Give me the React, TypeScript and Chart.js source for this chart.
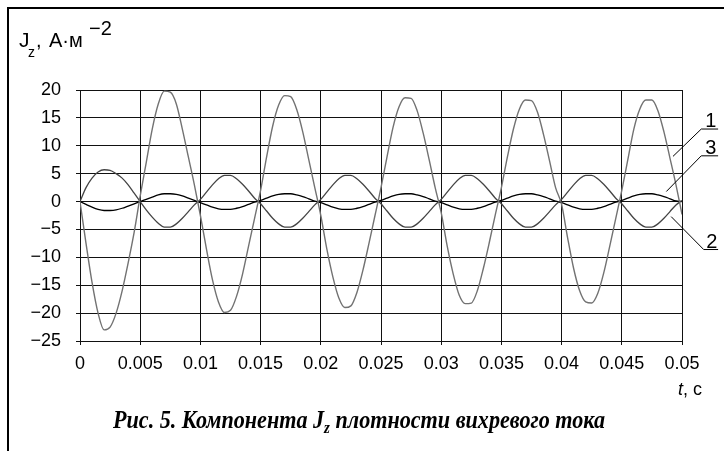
import React, { useEffect, useRef } from "react";
import { Chart, registerables } from "chart.js";
Chart.register(...registerables);

// t, s
const times = [
  0, 0.0005, 0.001, 0.0015, 0.002, 0.0025, 0.003, 0.0035, 0.004, 0.0045,
  0.005, 0.0055, 0.006, 0.0065, 0.007, 0.0075, 0.008, 0.0085, 0.009, 0.0095,
  0.01, 0.0105, 0.011, 0.0115, 0.012, 0.0125, 0.013, 0.0135, 0.014, 0.0145,
  0.015, 0.0155, 0.016, 0.0165, 0.017, 0.0175, 0.018, 0.0185, 0.019, 0.0195,
  0.02, 0.0205, 0.021, 0.0215, 0.022, 0.0225, 0.023, 0.0235, 0.024, 0.0245,
  0.025, 0.0255, 0.026, 0.0265, 0.027, 0.0275, 0.028, 0.0285, 0.029, 0.0295,
  0.03, 0.0305, 0.031, 0.0315, 0.032, 0.0325, 0.033, 0.0335, 0.034, 0.0345,
  0.035, 0.0355, 0.036, 0.0365, 0.037, 0.0375, 0.038, 0.0385, 0.039, 0.0395,
  0.04, 0.0405, 0.041, 0.0415, 0.042, 0.0425, 0.043, 0.0435, 0.044, 0.0445,
  0.045, 0.0455, 0.046, 0.0465, 0.047, 0.0475, 0.048, 0.0485, 0.049, 0.0495,
  0.05,
];

// curve 1
const j1 = [
  0, -7.5, -14.5, -20, -23, -22.5, -20, -16, -11, -5.5,
  1, 7, 13, 17.5, 19.8, 19.6, 17.5, 13, 8, 3,
  -2.5, -8.5, -14, -18, -19.9, -19.5, -17, -13, -8, -3,
  2, 8, 13.5, 17.3, 19, 18.8, 16.5, 12.5, 7.5, 2.5,
  -2.5, -8.5, -13.5, -17.3, -19, -18.7, -16.3, -12.3, -7.5, -2.5,
  2.5, 8, 13.3, 17, 18.6, 18.5, 16.3, 12.3, 7.5, 2.5,
  -2, -8, -13, -16.8, -18.3, -18.2, -16, -12, -7.3, -2.3,
  2.5, 8, 13, 16.6, 18.2, 18.1, 16, 12, 7.3, 2.5,
  -0.5, -6.5, -12, -16, -18, -18.2, -16.5, -12.8, -8, -3,
  2, 7.5, 13, 16.6, 18.2, 18.2, 16.3, 12.5, 7.8, 3,
  -2.3,
];

// curve 2
const j2 = [
  0, 2.5, 4.2, 5.3, 5.7, 5.6, 5.0, 4.2, 3.0, 1.5,
  0, -1.5, -2.8, -3.9, -4.6, -4.6, -4.0, -3.0, -1.8, -0.6,
  0.4, 1.7, 3.0, 4.1, 4.7, 4.7, 4.1, 3.1, 1.9, 0.6,
  -0.4, -1.7, -3.0, -4.0, -4.6, -4.6, -4.0, -3.0, -1.8, -0.6,
  0.4, 1.7, 3.0, 4.1, 4.7, 4.7, 4.1, 3.1, 1.9, 0.6,
  -0.4, -1.7, -3.0, -4.0, -4.6, -4.6, -4.0, -3.0, -1.8, -0.6,
  0.4, 1.7, 3.0, 4.1, 4.7, 4.7, 4.1, 3.1, 1.9, 0.6,
  -0.4, -1.7, -3.0, -4.0, -4.6, -4.6, -4.0, -3.0, -1.8, -0.6,
  0.4, 1.7, 3.0, 4.1, 4.7, 4.7, 4.1, 3.1, 1.9, 0.6,
  -0.4, -1.7, -3.0, -4.0, -4.6, -4.6, -4.0, -3.0, -1.8, -0.6,
  0.2,
];

// curve 3
const j3 = [
  0, -0.5, -1.0, -1.4, -1.6, -1.6, -1.5, -1.2, -0.8, -0.4,
  0, 0.4, 0.8, 1.2, 1.4, 1.4, 1.3, 1.0, 0.6, 0.2,
  -0.2, -0.6, -1.0, -1.3, -1.4, -1.4, -1.2, -0.9, -0.5, -0.1,
  0.2, 0.6, 1.0, 1.3, 1.4, 1.4, 1.2, 0.9, 0.5, 0.1,
  -0.2, -0.6, -1.0, -1.3, -1.4, -1.4, -1.2, -0.9, -0.5, -0.1,
  0.2, 0.6, 1.0, 1.3, 1.4, 1.4, 1.2, 0.9, 0.5, 0.1,
  -0.2, -0.6, -1.0, -1.3, -1.4, -1.4, -1.2, -0.9, -0.5, -0.1,
  0.2, 0.6, 1.0, 1.3, 1.4, 1.4, 1.2, 0.9, 0.5, 0.1,
  -0.2, -0.6, -1.0, -1.3, -1.4, -1.4, -1.2, -0.9, -0.5, -0.1,
  0.2, 0.6, 1.0, 1.3, 1.4, 1.4, 1.2, 0.9, 0.5, 0.1,
  0,
];

const seriesNames = ["1", "2", "3"];
const xTickLabels = ["0", "0.005", "0.01", "0.015", "0.02", "0.025", "0.03", "0.035", "0.04", "0.045", "0.05"];
const yTickLabels = ["\u221225", "\u221220", "\u221215", "\u221210", "\u22125", "0", "5", "10", "15", "20"];

const SANS = '"Liberation Sans", Arial, sans-serif';
const SERIF = '"Liberation Serif", "Times New Roman", serif';

// leader-line labels, in data coordinates
const leaders = [
  { text: seriesNames[0], from: [0.04925, 8.1], to: [0.0516, 13.0], end: 0.053 },
  { text: seriesNames[2], from: [0.0487, 1.8], to: [0.0516, 8.2], end: 0.053 },
  { text: seriesNames[1], from: [0.0491, -2.7], to: [0.0518, -8.6], end: 0.053 },
];

const decorPlugin = {
  id: "decor",
  beforeDraw(chart: any) {
    const ctx = chart.ctx;
    ctx.save();
    ctx.fillStyle = "#ffffff";
    ctx.fillRect(0, 0, chart.width, chart.height);
    ctx.restore();
  },
  afterDraw(chart: any) {
    const ctx = chart.ctx;
    const xs = chart.scales.x;
    const ys = chart.scales.y;
    ctx.save();
    // frame
    ctx.fillStyle = "#000";
    ctx.fillRect(7, 7, chart.width - 7, 2);
    ctx.fillRect(7, 7, 2, chart.height - 7);

    // leader labels
    ctx.strokeStyle = "#000";
    ctx.lineWidth = 1;
    ctx.font = `20px ${SANS}`;
    ctx.textAlign = "center";
    ctx.textBaseline = "alphabetic";
    for (const l of leaders) {
      const x0 = xs.getPixelForValue(l.from[0]);
      const y0 = ys.getPixelForValue(l.from[1]);
      const x1 = xs.getPixelForValue(l.to[0]);
      const y1 = ys.getPixelForValue(l.to[1]);
      const x2 = xs.getPixelForValue(l.end);
      ctx.beginPath();
      ctx.moveTo(x0, y0);
      ctx.lineTo(x1, y1);
      ctx.lineTo(x2, y1);
      ctx.stroke();
      ctx.fillText(l.text, (x1 + x2) / 2 + 1, y1 - 2);
    }

    // y axis title: J_z, А·м^-2
    ctx.textAlign = "left";
    ctx.font = `21px ${SANS}`;
    ctx.fillText("J", 19, 47);
    ctx.font = `14px ${SANS}`;
    ctx.fillText("z", 28, 57);
    ctx.font = `20px ${SANS}`;
    ctx.fillText(",", 36, 47);
    ctx.fillText("А\u00B7м", 49, 47);
    ctx.fillText("\u22122", 89, 35);

    // x axis title: t, c
    ctx.font = `italic 18px ${SANS}`;
    const tW = ctx.measureText("t").width;
    ctx.font = `18px ${SANS}`;
    const restW = ctx.measureText(", c").width;
    const startX = 702 - tW - restW;
    ctx.font = `italic 18px ${SANS}`;
    ctx.fillText("t", startX, 395);
    ctx.font = `18px ${SANS}`;
    ctx.fillText(", c", startX + tW, 395);

    // caption (bold italic serif)
    const p1 = "Рис. 5. Компонента J";
    const p2 = "z";
    const p3 = " плотности вихревого тока";
    const big = `bold italic 25px ${SERIF}`;
    const small = `bold italic 17px ${SERIF}`;
    ctx.font = big;
    const w1 = ctx.measureText(p1).width;
    const w3 = ctx.measureText(p3).width;
    ctx.font = small;
    const w2 = ctx.measureText(p2).width;
    const total = w1 + w2 + w3;
    const targetW = 492;
    const sx = targetW / total;
    ctx.translate(359 - targetW / 2, 0);
    ctx.scale(sx, 1);
    ctx.font = big;
    ctx.fillText(p1, 0, 428);
    ctx.font = small;
    ctx.fillText(p2, w1, 433);
    ctx.font = big;
    ctx.fillText(p3, w1 + w2, 428);
    ctx.restore();
  },
};

export default function App() {
  const ref = useRef<HTMLCanvasElement | null>(null);
  useEffect(() => {
    if (!ref.current) return;
    const mk = (vals: number[]) => times.map((t, i) => ({ x: t, y: vals[i] }));
    const common = { pointRadius: 0, fill: false, cubicInterpolationMode: "monotone" as const };
    const chart = new Chart(ref.current, {
      type: "line",
      data: {
        datasets: [
          { label: seriesNames[0], data: mk(j1), borderColor: "#727272", borderWidth: 1.4, ...common },
          { label: seriesNames[1], data: mk(j2), borderColor: "#444444", borderWidth: 1.3, ...common },
          { label: seriesNames[2], data: mk(j3), borderColor: "#000000", borderWidth: 1.3, ...common },
        ],
      },
      options: {
        responsive: false,
        animation: false,
        devicePixelRatio: 1,
        layout: { padding: { top: 90, right: 42, left: 0, bottom: 0 } },
        plugins: { legend: { display: false }, title: { display: false }, tooltip: { enabled: false } },
        scales: {
          x: {
            type: "linear",
            min: 0,
            max: 0.05,
            afterFit: (s: any) => { s.height = 110; },
            afterBuildTicks: (s: any) => { s.ticks = xTickLabels.map((_, i) => ({ value: times[i * 10] })); },
            ticks: {
              stepSize: 0.005,
              autoSkip: false,
              maxRotation: 0,
              padding: 8,
              color: "#000",
              font: { family: SANS, size: 18 },
              callback: (_v: any, i: number) => xTickLabels[i],
            },
            grid: { color: "#111111", lineWidth: 1, tickLength: 4, drawTicks: true },
            border: { display: true, color: "#111111" },
          },
          y: {
            type: "linear",
            min: -25,
            max: 20,
            afterFit: (s: any) => { s.width = 80; },
            ticks: {
              stepSize: 5,
              padding: 15,
              color: "#000",
              font: { family: SANS, size: 18 },
              callback: (_v: any, i: number) => yTickLabels[i],
            },
            grid: { color: "#111111", lineWidth: 1, tickLength: 4, drawTicks: true },
            border: { display: true, color: "#111111" },
          },
        },
      },
      plugins: [decorPlugin],
    });
    return () => chart.destroy();
  }, []);
  return (
    <div style={{ position: "absolute", left: 0, top: 0, width: 724, height: 451 }}>
      <canvas ref={ref} width={724} height={451} style={{ display: "block" }} />
    </div>
  );
}
